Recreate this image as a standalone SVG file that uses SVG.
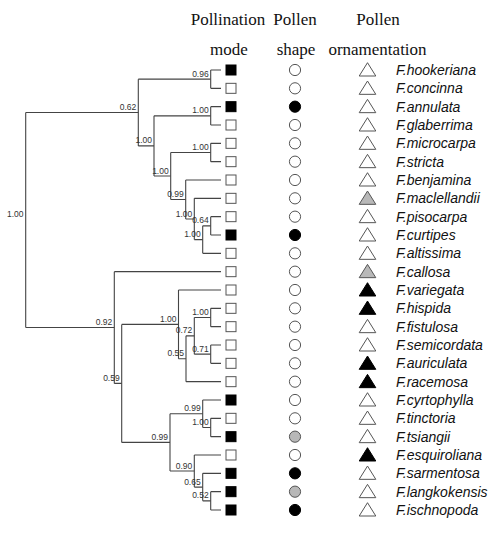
<svg xmlns="http://www.w3.org/2000/svg" xmlns:xlink="http://www.w3.org/1999/xlink" width="500" height="537" viewBox="0 0 500 537">
<style>
.br{fill:none;stroke:#444;stroke-width:1.1}
.sup{font-family:"Liberation Sans",Arial,sans-serif;font-size:8.5px;fill:#333;text-anchor:end}
.hd{font-family:"Liberation Serif","Times New Roman",serif;font-size:17px;fill:#111;text-anchor:middle}
.tx{font-family:"Liberation Sans",Arial,sans-serif;font-size:14px;font-style:italic;fill:#111}
.o{fill:#fff;stroke:#555;stroke-width:1}
.b{fill:#000;stroke:#000;stroke-width:1}
.g{fill:#b8b8b8;stroke:#555;stroke-width:1}
</style>
<defs>
<rect id="sq" x="-5" y="-5" width="10" height="10"/>
<circle id="ci" cx="0" cy="0" r="5.6"/>
<path id="tr" d="M0,-7.3 L8.3,6 L-8.3,6 Z"/>
</defs>
<g id="headers">
<text class="hd" x="228" y="25">Pollination</text>
<text class="hd" x="229" y="55">mode</text>
<text class="hd" x="295" y="25">Pollen</text>
<text class="hd" x="296" y="55">shape</text>
<text class="hd" x="378" y="25">Pollen</text>
<text class="hd" x="377.5" y="55">ornamentation</text>
</g>
<g id="connectors" class="br">
<path d="M25.7,112.54V327.53M25.7,112.54H138.3M25.7,327.53H114.3"/>
<path d="M138.3,79.17V145.91M138.3,79.17H210.7M138.3,145.91H154"/>
<path d="M210.7,70V88.33M210.7,70H221M210.7,88.33H221"/>
<path d="M154,115.83V175.99M154,115.83H210.7M154,175.99H170.7"/>
<path d="M210.7,106.67V125M210.7,106.67H221M210.7,125H221"/>
<path d="M170.7,152.5V199.48M170.7,152.5H210.7M170.7,199.48H185.7"/>
<path d="M210.7,143.33V161.67M210.7,143.33H221M210.7,161.67H221"/>
<path d="M185.7,180V218.96M185.7,180H221M185.7,218.96H194.3"/>
<path d="M194.3,198.33V239.58M194.3,198.33H221M194.3,239.58H202.7"/>
<path d="M202.7,225.83V253.33M202.7,225.83H210.7M202.7,253.33H221"/>
<path d="M210.7,216.67V235M210.7,216.67H221M210.7,235H221"/>
<path d="M114.3,271.67V383.39M114.3,271.67H221M114.3,383.39H121.7"/>
<path d="M121.7,324.38V442.4M121.7,324.38H178.5M121.7,442.4H170"/>
<path d="M178.5,290V358.75M178.5,290H221M178.5,358.75H186"/>
<path d="M186,335.83V381.67M186,335.83H194.3M186,381.67H221"/>
<path d="M194.3,317.5V354.17M194.3,317.5H210.7M194.3,354.17H210.7"/>
<path d="M210.7,308.33V326.67M210.7,308.33H221M210.7,326.67H221"/>
<path d="M210.7,345V363.33M210.7,345H221M210.7,363.33H221"/>
<path d="M170,413.75V471.04M170,413.75H202.7M170,471.04H194.3"/>
<path d="M202.7,400V427.5M202.7,400H221M202.7,427.5H210.7"/>
<path d="M210.7,418.33V436.67M210.7,418.33H221M210.7,436.67H221"/>
<path d="M194.3,455V487.08M194.3,455H221M194.3,487.08H202.7"/>
<path d="M202.7,473.33V500.83M202.7,473.33H221M202.7,500.83H210.7"/>
<path d="M210.7,491.67V510M210.7,491.67H221M210.7,510H221"/>
</g>
<g id="support">
<text class="sup" x="23.5" y="217">1.00</text>
<text class="sup" x="136.3" y="110">0.62</text>
<text class="sup" x="208.7" y="76.7">0.96</text>
<text class="sup" x="152" y="143.4">1.00</text>
<text class="sup" x="208.7" y="113.3">1.00</text>
<text class="sup" x="168.7" y="173.5">1.00</text>
<text class="sup" x="208.7" y="150">1.00</text>
<text class="sup" x="183.7" y="197">0.99</text>
<text class="sup" x="192.3" y="216.5">1.00</text>
<text class="sup" x="200.7" y="237">1.00</text>
<text class="sup" x="208.7" y="223.3">0.64</text>
<text class="sup" x="112.3" y="325">0.92</text>
<text class="sup" x="119.7" y="381">0.59</text>
<text class="sup" x="176.5" y="322">1.00</text>
<text class="sup" x="184" y="356.3">0.55</text>
<text class="sup" x="192.3" y="333.3">0.72</text>
<text class="sup" x="208.7" y="315">1.00</text>
<text class="sup" x="208.7" y="351.7">0.71</text>
<text class="sup" x="168" y="440">0.99</text>
<text class="sup" x="200.7" y="411.3">0.99</text>
<text class="sup" x="208.7" y="425">1.00</text>
<text class="sup" x="192.3" y="468.5">0.90</text>
<text class="sup" x="200.7" y="484.6">0.65</text>
<text class="sup" x="208.7" y="498.3">0.52</text>
</g>
<g id="hookeriana"><use xlink:href="#sq" class="b" x="231" y="70"/><use xlink:href="#ci" class="o" x="295" y="70"/><use xlink:href="#tr" class="o" x="367.5" y="70"/><text class="tx" x="396" y="75">F.hookeriana</text></g>
<g id="concinna"><use xlink:href="#sq" class="o" x="231" y="88.33"/><use xlink:href="#ci" class="o" x="295" y="88.33"/><use xlink:href="#tr" class="o" x="367.5" y="88.33"/><text class="tx" x="396" y="93.33">F.concinna</text></g>
<g id="annulata"><use xlink:href="#sq" class="b" x="231" y="106.67"/><use xlink:href="#ci" class="b" x="295" y="106.67"/><use xlink:href="#tr" class="o" x="367.5" y="106.67"/><text class="tx" x="396" y="111.67">F.annulata</text></g>
<g id="glaberrima"><use xlink:href="#sq" class="o" x="231" y="125"/><use xlink:href="#ci" class="o" x="295" y="125"/><use xlink:href="#tr" class="o" x="367.5" y="125"/><text class="tx" x="396" y="130">F.glaberrima</text></g>
<g id="microcarpa"><use xlink:href="#sq" class="o" x="231" y="143.33"/><use xlink:href="#ci" class="o" x="295" y="143.33"/><use xlink:href="#tr" class="o" x="367.5" y="143.33"/><text class="tx" x="396" y="148.33">F.microcarpa</text></g>
<g id="stricta"><use xlink:href="#sq" class="o" x="231" y="161.67"/><use xlink:href="#ci" class="o" x="295" y="161.67"/><use xlink:href="#tr" class="o" x="367.5" y="161.67"/><text class="tx" x="396" y="166.67">F.stricta</text></g>
<g id="benjamina"><use xlink:href="#sq" class="o" x="231" y="180"/><use xlink:href="#ci" class="o" x="295" y="180"/><use xlink:href="#tr" class="o" x="367.5" y="180"/><text class="tx" x="396" y="185">F.benjamina</text></g>
<g id="maclellandii"><use xlink:href="#sq" class="o" x="231" y="198.33"/><use xlink:href="#ci" class="o" x="295" y="198.33"/><use xlink:href="#tr" class="g" x="367.5" y="198.33"/><text class="tx" x="396" y="203.33">F.maclellandii</text></g>
<g id="pisocarpa"><use xlink:href="#sq" class="o" x="231" y="216.67"/><use xlink:href="#ci" class="o" x="295" y="216.67"/><use xlink:href="#tr" class="o" x="367.5" y="216.67"/><text class="tx" x="396" y="221.67">F.pisocarpa</text></g>
<g id="curtipes"><use xlink:href="#sq" class="b" x="231" y="235"/><use xlink:href="#ci" class="b" x="295" y="235"/><use xlink:href="#tr" class="o" x="367.5" y="235"/><text class="tx" x="396" y="240">F.curtipes</text></g>
<g id="altissima"><use xlink:href="#sq" class="o" x="231" y="253.33"/><use xlink:href="#ci" class="o" x="295" y="253.33"/><use xlink:href="#tr" class="o" x="367.5" y="253.33"/><text class="tx" x="396" y="258.33">F.altissima</text></g>
<g id="callosa"><use xlink:href="#sq" class="o" x="231" y="271.67"/><use xlink:href="#ci" class="o" x="295" y="271.67"/><use xlink:href="#tr" class="g" x="367.5" y="271.67"/><text class="tx" x="396" y="276.67">F.callosa</text></g>
<g id="variegata"><use xlink:href="#sq" class="o" x="231" y="290"/><use xlink:href="#ci" class="o" x="295" y="290"/><use xlink:href="#tr" class="b" x="367.5" y="290"/><text class="tx" x="396" y="295">F.variegata</text></g>
<g id="hispida"><use xlink:href="#sq" class="o" x="231" y="308.33"/><use xlink:href="#ci" class="o" x="295" y="308.33"/><use xlink:href="#tr" class="b" x="367.5" y="308.33"/><text class="tx" x="396" y="313.33">F.hispida</text></g>
<g id="fistulosa"><use xlink:href="#sq" class="o" x="231" y="326.67"/><use xlink:href="#ci" class="o" x="295" y="326.67"/><use xlink:href="#tr" class="o" x="367.5" y="326.67"/><text class="tx" x="396" y="331.67">F.fistulosa</text></g>
<g id="semicordata"><use xlink:href="#sq" class="o" x="231" y="345"/><use xlink:href="#ci" class="o" x="295" y="345"/><use xlink:href="#tr" class="o" x="367.5" y="345"/><text class="tx" x="396" y="350">F.semicordata</text></g>
<g id="auriculata"><use xlink:href="#sq" class="o" x="231" y="363.33"/><use xlink:href="#ci" class="o" x="295" y="363.33"/><use xlink:href="#tr" class="b" x="367.5" y="363.33"/><text class="tx" x="396" y="368.33">F.auriculata</text></g>
<g id="racemosa"><use xlink:href="#sq" class="o" x="231" y="381.67"/><use xlink:href="#ci" class="o" x="295" y="381.67"/><use xlink:href="#tr" class="b" x="367.5" y="381.67"/><text class="tx" x="396" y="386.67">F.racemosa</text></g>
<g id="cyrtophylla"><use xlink:href="#sq" class="b" x="231" y="400"/><use xlink:href="#ci" class="o" x="295" y="400"/><use xlink:href="#tr" class="o" x="367.5" y="400"/><text class="tx" x="396" y="405">F.cyrtophylla</text></g>
<g id="tinctoria"><use xlink:href="#sq" class="o" x="231" y="418.33"/><use xlink:href="#ci" class="o" x="295" y="418.33"/><use xlink:href="#tr" class="o" x="367.5" y="418.33"/><text class="tx" x="396" y="423.33">F.tinctoria</text></g>
<g id="tsiangii"><use xlink:href="#sq" class="b" x="231" y="436.67"/><use xlink:href="#ci" class="g" x="295" y="436.67"/><use xlink:href="#tr" class="o" x="367.5" y="436.67"/><text class="tx" x="396" y="441.67">F.tsiangii</text></g>
<g id="esquiroliana"><use xlink:href="#sq" class="o" x="231" y="455"/><use xlink:href="#ci" class="o" x="295" y="455"/><use xlink:href="#tr" class="b" x="367.5" y="455"/><text class="tx" x="396" y="460">F.esquiroliana</text></g>
<g id="sarmentosa"><use xlink:href="#sq" class="b" x="231" y="473.33"/><use xlink:href="#ci" class="b" x="295" y="473.33"/><use xlink:href="#tr" class="o" x="367.5" y="473.33"/><text class="tx" x="396" y="478.33">F.sarmentosa</text></g>
<g id="langkokensis"><use xlink:href="#sq" class="b" x="231" y="491.67"/><use xlink:href="#ci" class="g" x="295" y="491.67"/><use xlink:href="#tr" class="o" x="367.5" y="491.67"/><text class="tx" x="396" y="496.67">F.langkokensis</text></g>
<g id="ischnopoda"><use xlink:href="#sq" class="b" x="231" y="510"/><use xlink:href="#ci" class="b" x="295" y="510"/><use xlink:href="#tr" class="o" x="367.5" y="510"/><text class="tx" x="396" y="515">F.ischnopoda</text></g>
</svg>
